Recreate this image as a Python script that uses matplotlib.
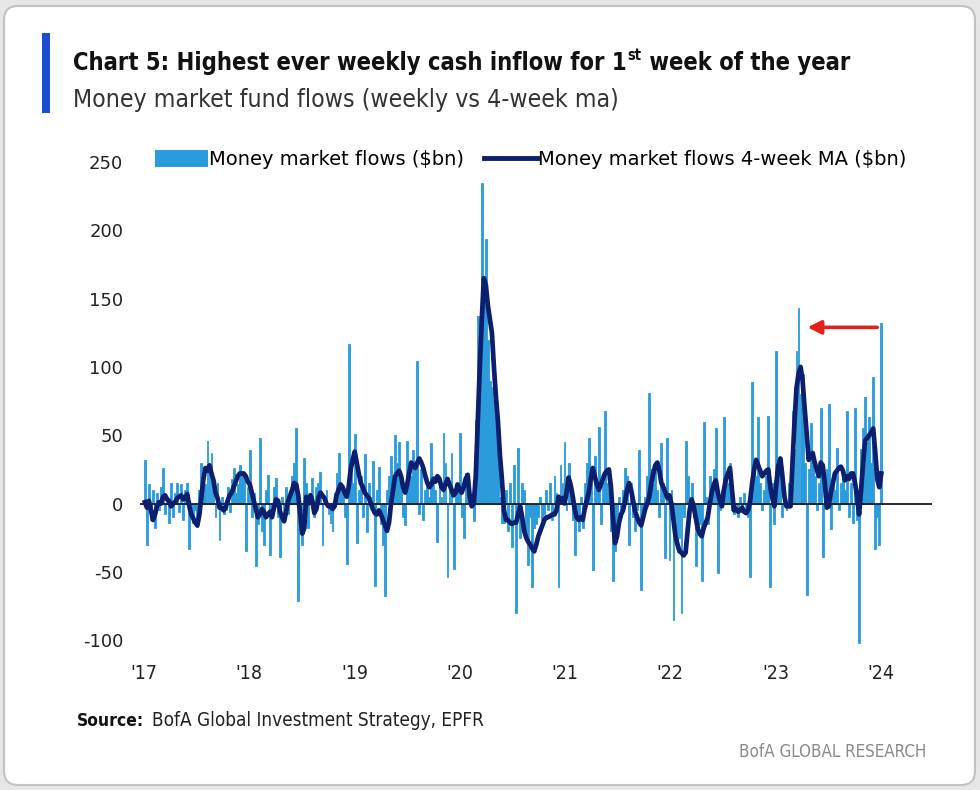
import matplotlib
matplotlib.use("Agg")
import matplotlib.pyplot as plt
import matplotlib.transforms as mtrans
from matplotlib.patches import FancyBboxPatch, Rectangle, Patch
from matplotlib.lines import Line2D
import pandas as pd

# weekly money market flows ($bn), Jan 2017 .. first week of 2024
flows_2017 = [32, -30, 14, -12, 10, -18, 8, -5, 12, 26,
              -8, 5, -14, 15, -10, 8, 15, -6, 14, -12,
              10, 15, -33, -8, -14, -5, -17, 10, 30, 22,
              14, 46, 28, 37, 12, -10, 15, -27, 5, -8,
              -5, 12, -6, 18, 26, 8, 14, 28, 24, 20,
              -35, 12]
flows_2018 = [39, -10, 8, -46, -15, 48, -20, -30, 10, 21,
              -38, -5, 12, 19, -10, -39, 5, -12, 12, -8,
              8, 20, 30, 55, -71, -20, -30, 33, 15, -18,
              8, 19, -10, 12, 15, 23, -30, 5, 10, -8,
              -14, -20, 8, 22, 37, 12, 10, -10, -44, 117,
              30, 15]
flows_2019 = [51, -29, 10, 20, -10, 36, -21, 15, 5, 31,
              -60, 10, 27, -15, -30, -68, 10, 20, 35, 15,
              50, 30, 45, 20, -10, -16, 46, 15, 20, 39,
              30, 104, -8, 25, -12, 10, 15, 5, 44, 20,
              10, -28, 15, 5, 52, 30, -54, 10, 37, -48,
              15, 15]
flows_2020 = [52, -10, -25, 22, 15, 5, 8, -13, 61, 137,
              110, 235, 150, 194, 120, 90, 85, 76, 70, 40,
              5, -14, -14, 10, -20, 15, -32, 28, -80, 41,
              -25, 15, 10, -20, -45, -10, -61, -18, -15, -10,
              5, -12, -8, 10, -5, 15, -12, 20, 8, -61,
              28, 15]
flows_2021 = [45, -5, 30, 10, -12, -38, -10, -20, 5, -18,
              15, 30, 48, 20, -49, 35, 10, 56, -15, 20,
              68, 15, 10, -20, -57, -35, -25, 5, -10, 10,
              26, 20, -30, 15, -10, -20, -5, 39, -63, -10,
              5, 20, 81, 25, 15, 30, 10, -10, 44, 15,
              -40, 48]
flows_2022 = [-41, 10, -85, -20, -30, -25, -80, -10, 46, 20,
              5, 15, -10, -46, -20, -15, -57, 60, 5, -15,
              20, 10, 25, 55, -51, -5, 10, 63, 20, 15,
              30, -5, -8, -5, -10, 5, -6, 8, -5, -10,
              -54, 89, 25, 20, 63, 15, -5, 10, 20, 64,
              -61, 15]
flows_2023 = [-15, 112, 20, 30, -10, 10, -5, 15, 20, 68,
              40, 112, 143, 80, 95, 30, -67, 25, 59, 35,
              20, -5, 15, 70, -39, 10, 25, 73, -19, 20,
              10, 41, -5, 15, 20, 10, 68, -10, 15, -14,
              70, -12, -102, 40, 55, 78, 45, 63, 30, 93,
              -33, -10, -30, 132]

# 4-week moving average ($bn)
ma_2017 = [1, -3, 2, -5, -12, -8, -2, 1, 0, 5,
           6, 3, 2, -2, 0, 1, 4, 5, 6, 3,
           4, 7, -2, -8, -11, -14, -16, -8, 5, 18,
           26, 24, 28, 22, 17, 8, 4, -3, -3, -5,
           -3, 2, 6, 8, 12, 16, 20, 22, 22, 22,
           20, 16]
ma_2018 = [14, 8, 2, -4, -10, -8, -4, -6, -10, -8,
           -6, -10, -3, 3, 2, -6, -10, -13, -6, 2,
           6, 10, 15, 14, 6, -8, -22, -18, 5, 0,
           6, 2, -7, -4, 4, 8, 6, 4, 0, -2,
           -2, -4, -2, 6, 10, 14, 12, 8, 5, 12,
           25, 32]
ma_2019 = [38, 30, 22, 15, 12, 8, 6, 4, 0, -4,
           -7, -8, -5, -8, -12, -16, -20, -14, 0, 10,
           20, 22, 24, 20, 12, 8, 14, 22, 30, 28,
           26, 30, 33, 30, 26, 20, 15, 12, 14, 18,
           16, 20, 18, 12, 10, 14, 18, 14, 10, 6,
           8, 14]
ma_2020 = [10, 8, 12, 18, 21, 5, -2, 0, 20, 60,
           100, 135, 165, 160, 145, 135, 125, 100, 78, 60,
           35, 17, -5, -12, -12, -14, -15, -14, -14, -8,
           -2, -10, -20, -25, -28, -30, -33, -35, -30, -24,
           -20, -16, -12, -10, -10, -9, -8, -8, -5, 5,
           2, 4]
ma_2021 = [0, 8, 19, 14, 6, -4, -10, -12, -10, -12,
           -4, 2, 8, 18, 26, 20, 14, 10, 14, 18,
           22, 24, 25, 12, -10, -29, -24, -14, -8, -5,
           2, 10, 15, 10, 2, -6, -10, -14, -16, -10,
           -4, 0, 5, 15, 22, 28, 30, 24, 15, 12,
           8, 4]
ma_2022 = [6, 0, -12, -24, -30, -35, -36, -38, -36, -20,
           -5, 3, -2, -10, -18, -22, -24, -18, -14, -10,
           0, 8, 14, 17, 8, 2, -2, 10, 18, 22,
           26, 10, -5, -4, -6, -5, -3, -6, -7, -5,
           2, 15, 25, 32, 28, 24, 20, 22, 24, 25,
           12, 4]
ma_2023 = [-2, 15, 28, 33, 20, 5, -2, -2, -2, 30,
           60, 85, 95, 100, 90, 70, 52, 32, 35, 37,
           30, 25, 20, 30, 28, 15, -3, -2, 8, 15,
           22, 24, 26, 27, 24, 17, 20, 18, 22, 22,
           15, 5, -8, 10, 30, 46, 48, 50, 52, 55,
           38, 18, 12, 22]

flows = flows_2017 + flows_2018 + flows_2019 + flows_2020 + flows_2021 + flows_2022 + flows_2023
ma = ma_2017 + ma_2018 + ma_2019 + ma_2020 + ma_2021 + ma_2022 + ma_2023
weeks = pd.date_range("2017-01-04", periods=len(flows), freq="7D")

years = [2017, 2018, 2019, 2020, 2021, 2022, 2023, 2024]
year_labels = ["'17", "'18", "'19", "'20", "'21", "'22", "'23", "'24"]
y_ticks = [-100, -50, 0, 50, 100, 150, 200, 250]

bar_color = "#2a9bdb"
ma_color = "#0b1f6e"
narrow = dict(family=["DejaVu Sans"], stretch="condensed")
wide = dict(family=["DejaVu Sans"])

W, H = 980, 790
fig = plt.figure(figsize=(W / 100, H / 100), dpi=100, facecolor="#e6e6e6")

# white card with rounded corners, behind everything
card = FancyBboxPatch((4, 5), 971, 779, boxstyle="round,pad=0,rounding_size=14",
                      transform=mtrans.IdentityTransform(), fc="white", ec="#c2c2c2",
                      lw=1.5, zorder=-10)
fig.patches.append(card)
fig.patches.append(Rectangle((42, H - 113), 8, 80, transform=mtrans.IdentityTransform(),
                             fc="#1b4fcf", ec="none", zorder=-5))

ax = fig.add_axes([140 / W, 1 - 653.8 / H, (932 - 140) / W, (653.8 - 148.4) / H])
ax.set_facecolor("none")
ax.bar(weeks, flows, width=6.5, color=bar_color, edgecolor=bar_color, linewidth=0.6,
       zorder=2)
ax.axhline(0, color="#1a1a1a", lw=1.3, zorder=2.5)
ax.plot(weeks, ma, color=ma_color, lw=3.4, solid_joinstyle="round", zorder=3)

# red arrow pointing back to the March 2023 inflow
arrow_tail = (pd.Timestamp("2023-12-20"), 129)
arrow_head = (pd.Timestamp("2023-04-22"), 129)
ax.annotate("", xy=arrow_head, xytext=arrow_tail,
            arrowprops=dict(arrowstyle="-|>", color="#e3201b", lw=2.6, mutation_scale=20,
                            shrinkA=0, shrinkB=0), zorder=4)

ax.set_xlim(pd.Timestamp("2016-12-18"), pd.Timestamp("2024-06-27"))
ax.set_ylim(-110, 260)
ax.set_yticks(y_ticks)
ax.set_yticklabels([str(v) for v in y_ticks], fontsize=13, color="#222222", **wide)
ax.set_xticks([pd.Timestamp(f"{y}-01-01") for y in years])
ax.set_xticklabels(year_labels, fontsize=14, color="#222222", **narrow)
ax.tick_params(axis="y", length=0, pad=12)
ax.tick_params(axis="x", length=0, pad=7)
for s in ax.spines.values():
    s.set_visible(False)

handles = [Patch(fc=bar_color, ec="none"), Line2D([], [], color=ma_color, lw=3.5)]
labels = ["Money market flows ($bn)", "Money market flows 4-week MA ($bn)"]
ax.legend(handles, labels, loc="upper left", bbox_to_anchor=(155 / W, 1 - 150 / H),
          bbox_transform=fig.transFigure, ncol=2, frameon=False, handlelength=2.75,
          handleheight=1.0, handletextpad=0.05, columnspacing=1.0, borderpad=0,
          borderaxespad=0, prop=dict(size=14, **wide))

# title with superscript "st"
r = fig.canvas.get_renderer()
t1 = fig.text(73 / W, 1 - 70 / H, "Chart 5: Highest ever weekly cash inflow for 1",
              weight="bold", fontsize=17, color="#111111", va="baseline", **narrow)
bb = t1.get_window_extent(renderer=r)
t2 = fig.text((bb.x1 + 1) / W, 1 - 60 / H, "st", weight="bold",
              fontsize=10.5, color="#111111", va="baseline", **narrow)
bb2 = t2.get_window_extent(renderer=r)
fig.text(bb2.x1 / W, 1 - 70 / H, " week of the year", weight="bold",
         fontsize=17, color="#111111", va="baseline", **narrow)

fig.text(73 / W, 1 - 107 / H, "Money market fund flows (weekly vs 4-week ma)",
         fontsize=17.8, color="#333333", va="baseline", **narrow)

s1 = fig.text(77 / W, 1 - 726 / H, "Source:", weight="bold",
              fontsize=12.5, color="#111111", va="baseline", **narrow)
bb3 = s1.get_window_extent(renderer=r)
fig.text((bb3.x1 + 8) / W, 1 - 726 / H, "BofA Global Investment Strategy, EPFR",
         fontsize=13.6, color="#222222", va="baseline", **narrow)
fig.text(926 / W, 1 - 757 / H, "BofA GLOBAL RESEARCH", fontsize=12.2,
         color="#8a8a8a", ha="right", va="baseline", **narrow)

fig.savefig("out.png", dpi=100, facecolor=fig.get_facecolor())
